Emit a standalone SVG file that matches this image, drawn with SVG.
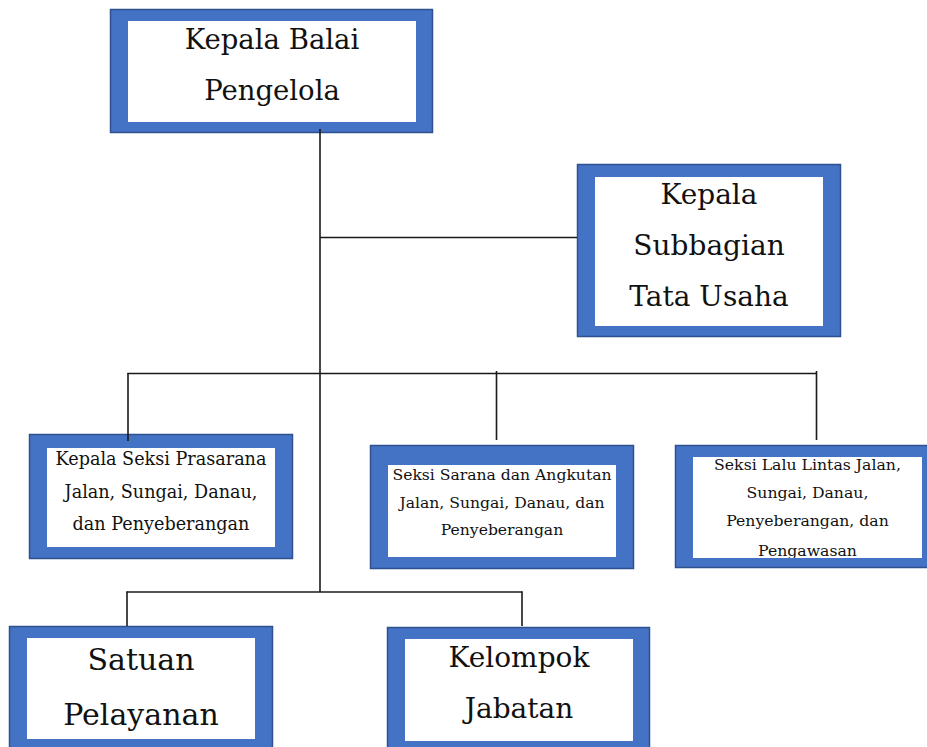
<svg xmlns="http://www.w3.org/2000/svg" width="927" height="747" viewBox="0 0 927 747">
<style>
.outer{fill:#4472C4;stroke:#2F528F;stroke-width:1.5}
.inner{fill:#ffffff}
.t{font-family:"DejaVu Serif","Liberation Serif",serif;fill:#111;text-anchor:middle}
.ln{stroke:#1a1a1a;stroke-width:1.6;fill:none}
</style>
<defs>
<clipPath id="clip5"><rect x="693" y="457" width="229" height="101"/></clipPath>
</defs>
<rect width="927" height="747" fill="#ffffff"/>
<g id="kepala-balai">
<rect class="outer" x="110.5" y="9.5" width="322" height="123"/>
<rect class="inner" x="128" y="21" width="288" height="101"/>
<text class="t" x="272" y="49" font-size="27.5">Kepala Balai</text>
<text class="t" x="272" y="100" font-size="27.5">Pengelola</text>
</g>
<g id="kepala-subbagian">
<rect class="outer" x="577.5" y="164.5" width="263" height="172"/>
<rect class="inner" x="595" y="177" width="228" height="149"/>
<text class="t" x="709" y="204" font-size="28">Kepala</text>
<text class="t" x="709" y="255" font-size="28">Subbagian</text>
<text class="t" x="709" y="306" font-size="28">Tata Usaha</text>
</g>
<g id="seksi-prasarana">
<rect class="outer" x="29.5" y="434.5" width="263" height="124"/>
<rect class="inner" x="47" y="448" width="228" height="99"/>
<text class="t" x="161" y="465" font-size="17.6">Kepala Seksi Prasarana</text>
<text class="t" x="161" y="498" font-size="17.6">Jalan, Sungai, Danau,</text>
<text class="t" x="161" y="530" font-size="17.6">dan Penyeberangan</text>
</g>
<g id="seksi-sarana">
<rect class="outer" x="370.5" y="445.5" width="263" height="123"/>
<rect class="inner" x="388" y="465" width="228" height="92"/>
<text class="t" x="502" y="480" font-size="15.6">Seksi Sarana dan Angkutan</text>
<text class="t" x="502" y="508" font-size="15.6">Jalan, Sungai, Danau, dan</text>
<text class="t" x="502" y="535" font-size="15.6">Penyeberangan</text>
</g>
<g id="seksi-lalu-lintas">
<rect class="outer" x="675.5" y="445.5" width="254" height="122"/>
<rect class="inner" x="693" y="457" width="229" height="101"/>
<g clip-path="url(#clip5)">
<text class="t" x="807.5" y="470" font-size="15.7">Seksi Lalu Lintas Jalan,</text>
<text class="t" x="807.5" y="498" font-size="15.7">Sungai, Danau,</text>
<text class="t" x="807.5" y="526" font-size="15.7">Penyeberangan, dan</text>
<text class="t" x="807.5" y="555.5" font-size="15.7">Pengawasan</text>
</g>
</g>
<g id="satuan-pelayanan">
<rect class="outer" x="9.5" y="626.5" width="263" height="126"/>
<rect class="inner" x="27" y="638" width="228" height="101"/>
<text class="t" x="141" y="670" font-size="30">Satuan</text>
<text class="t" x="141" y="725" font-size="30">Pelayanan</text>
</g>
<g id="kelompok-jabatan">
<rect class="outer" x="387.5" y="627.5" width="262" height="126"/>
<rect class="inner" x="405" y="639" width="228" height="102"/>
<text class="t" x="519" y="667" font-size="28">Kelompok</text>
<text class="t" x="519" y="718" font-size="28">Jabatan</text>
</g>
<g id="connectors">
<line class="ln" x1="320" y1="129" x2="320" y2="592"/>
<line class="ln" x1="320" y1="237.5" x2="577" y2="237.5"/>
<line class="ln" x1="127.5" y1="373.5" x2="817" y2="373.5"/>
<line class="ln" x1="128" y1="373" x2="128" y2="441"/>
<line class="ln" x1="496.5" y1="371" x2="496.5" y2="440"/>
<line class="ln" x1="816.5" y1="371" x2="816.5" y2="440"/>
<line class="ln" x1="126.5" y1="592" x2="522.5" y2="592"/>
<line class="ln" x1="127" y1="591.5" x2="127" y2="626"/>
<line class="ln" x1="522" y1="591.5" x2="522" y2="626"/>
</g>
</svg>
